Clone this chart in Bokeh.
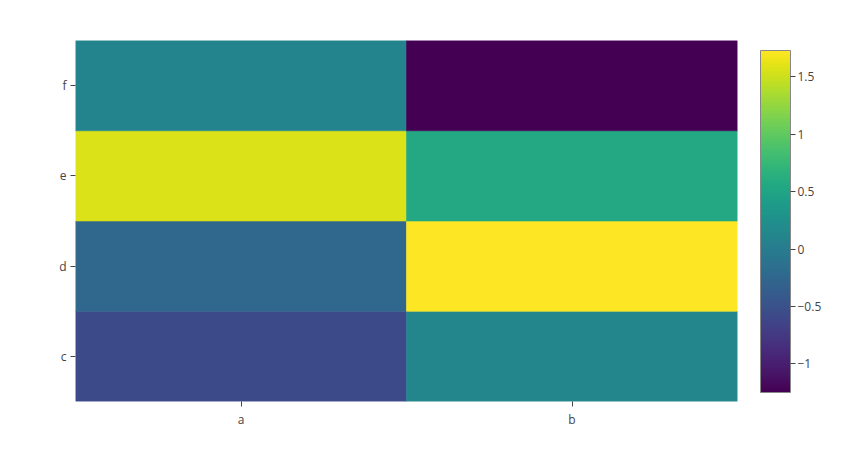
from bokeh.plotting import figure
from bokeh.models import (ColumnDataSource, LinearColorMapper, ColorBar, FixedTicker,
                          CustomJSTickFormatter, FactorRange)
from bokeh.palettes import Viridis256
from bokeh.transform import transform
from bokeh.embed import file_html
from bokeh.resources import INLINE

x_cats = ["a", "b"]
y_cats = ["c", "d", "e", "f"]
# values per row (c..f) for each column
vals_a = [-0.58, -0.25, 1.57, 0.1]
vals_b = [0.12, 1.73, 0.55, -1.25]
cbar_ticks = [-1, -0.5, 0, 0.5, 1, 1.5]

xs, ys, zs = [], [], []
for i, yc in enumerate(y_cats):
    xs += ["a", "b"]
    ys += [yc, yc]
    zs += [vals_a[i], vals_b[i]]
src = ColumnDataSource(dict(x=xs, y=ys, z=zs))

all_vals = vals_a + vals_b
mapper = LinearColorMapper(palette=Viridis256, low=min(all_vals), high=max(all_vals))

p = figure(width=840, height=447, output_backend="svg", toolbar_location=None,
           x_range=FactorRange(*x_cats, range_padding=0),
           y_range=FactorRange(*y_cats, range_padding=0),
           min_border_left=75, min_border_top=40, min_border_bottom=46, min_border_right=103)
p.rect(x="x", y="y", width=1, height=1, source=src,
       fill_color=transform("z", mapper), line_color=transform("z", mapper), line_width=0.6)

p.outline_line_color = None
p.grid.grid_line_color = None
for ax in (p.xaxis[0], p.yaxis[0]):
    ax.axis_line_color = None
    ax.major_tick_line_color = "#444444"
    ax.major_tick_in = 0
    ax.major_tick_out = 5
    ax.minor_tick_line_color = None
    ax.major_label_text_font = "Open Sans"
    ax.major_label_text_font_size = "12px"
    ax.major_label_text_color = "#444444"
    ax.major_label_standoff = 4

cb = ColorBar(color_mapper=mapper, width=30, height=342, location=(23, 9),
              padding=0, margin=0,
              ticker=FixedTicker(ticks=cbar_ticks),
              formatter=CustomJSTickFormatter(code="return tick < 0 ? '\\u2212' + Math.abs(tick) : String(tick);"),
              major_label_text_font="Open Sans", major_label_text_font_size="12px",
              major_label_text_color="#444444",
              major_tick_line_color="#444444", major_tick_in=0, major_tick_out=5,
              bar_line_color="#888888", bar_line_width=1,
              border_line_color=None, background_fill_color=None,
              label_standoff=2)
p.add_layout(cb, "right")

open("out.html", "w").write(file_html(p, INLINE))
